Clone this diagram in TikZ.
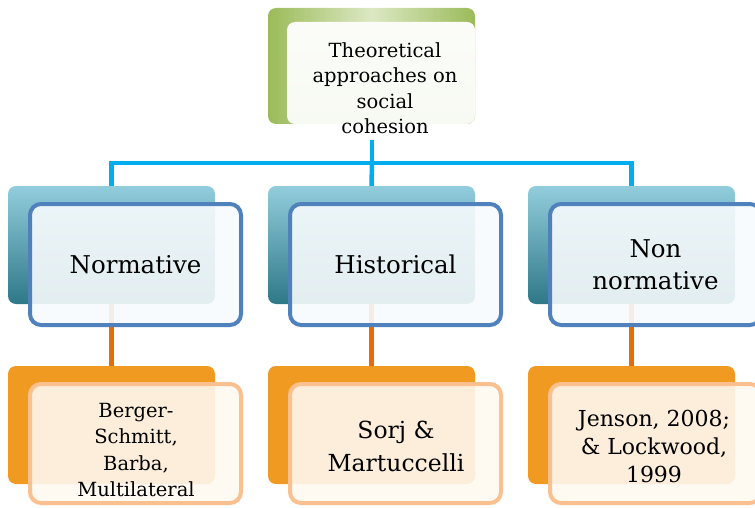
\documentclass[tikz,border=0pt]{standalone}
\usepackage{fontspec}
\setmainfont{DejaVu Serif}
\definecolor{blueline}{HTML}{00ADEE}
\definecolor{bluebord}{HTML}{4F81BD}
\definecolor{tealtop}{HTML}{92CDDC}
\definecolor{tealbot}{HTML}{2E7888}
\definecolor{orangeback}{HTML}{F09A22}
\definecolor{orangeline}{HTML}{E46C0A}
\definecolor{peach}{HTML}{FAC090}
\definecolor{greenA}{HTML}{9BBB59}
\definecolor{greenB}{HTML}{DCE8C4}
\begin{document}
\begin{tikzpicture}[x=1pt,y=-1pt,
  backbox/.style={rectangle,rounded corners=8pt,minimum width=207pt,minimum height=118pt,inner sep=0pt},
  tealbox/.style={backbox,top color=tealtop,bottom color=tealbot},
  orangebox/.style={backbox,fill=orangeback},
  frontblue/.style={rectangle,rounded corners=11pt,draw=bluebord,line width=4pt,fill=white!93!tealtop,fill opacity=0.9,text opacity=1,minimum width=211pt,minimum height=121pt,inner sep=0pt},
  frontorange/.style={rectangle,rounded corners=11pt,draw=peach,line width=4pt,fill=white!93!orangeback,fill opacity=0.9,text opacity=1,minimum width=211pt,minimum height=119pt,inner sep=0pt},
  midtext/.style={align=center,font=\fontsize{24.5}{32}\selectfont},
  bottext/.style={align=center,font=\fontsize{19.5}{26.5}\selectfont},
  toptext/.style={align=center,font=\fontsize{19.5}{25.5}\selectfont},
  bconn/.style={draw=blueline,line width=4.5pt},
  oconn/.style={draw=orangeline,line width=4.5pt}]
\useasboundingbox (0,0) rectangle (755,508);
% coordinates for connector layout
\coordinate (topstem) at (372,140);
\coordinate (hubL) at (111.5,163);
\coordinate (hubC) at (372,163);
\coordinate (hubR) at (631.5,163);
% back boxes (placeholders for names first)
\path (371.5,66) node[backbox] (topback) {};
\path (111.5,245) node[backbox] (m1back) {};
\path (371.5,245) node[backbox] (m2back) {};
\path (631.5,245) node[backbox] (m3back) {};
\path (111.5,425) node[backbox] (b1back) {};
\path (371.5,425) node[backbox] (b2back) {};
\path (631.5,425) node[backbox] (b3back) {};
% connectors
\draw[bconn] (topstem) -- (hubC);
\draw[bconn] (m1back.north) -- (hubL) -- (hubR) -- (m3back.north);
\draw[bconn] (hubC) -- (m2back.north);
\draw[oconn] (m1back.south) -- (b1back.north);
\draw[oconn] (m2back.south) -- (b2back.north);
\draw[oconn] (m3back.south) -- (b3back.north);
% top
\path[rounded corners=8pt,left color=greenA,right color=greenA,middle color=greenB]
  (268,8) rectangle (475,124);
\path[rounded corners=8pt,top color=white!96!greenA,bottom color=white!92!greenA]
  (287,22) rectangle (475,124);
\node[toptext] (toplabel) at (385,88) {Theoretical\\approaches on\\social\\cohesion};
% middle row
\path (111.5,245) node[tealbox] {};
\path (371.5,245) node[tealbox] {};
\path (631.5,245) node[tealbox] {};
\node[frontblue,midtext] (norm) at (135.5,264.5) {Normative};
\node[frontblue,midtext] (hist) at (395.5,264.5) {Historical};
\node[frontblue,midtext] (nonn) at (655.5,264.5) {Non\\normative};
% bottom row
\path (111.5,425) node[orangebox] {};
\path (371.5,425) node[orangebox] {};
\path (631.5,425) node[orangebox] {};
\node[frontorange] (bs) at (135.5,443.5) {};
\node[bottext] (bstext) at (136,450) {Berger-\\Schmitt,\\Barba,\\Multilateral};
\node[frontorange] (sm) at (395.5,443.5) {};
\node[bottext,font=\fontsize{23.5}{33}\selectfont] (smtext) at (396,446) {Sorj \&\\Martuccelli};
\node[frontorange] (jl) at (655.5,443.5) {};
\node[bottext,font=\fontsize{22}{28}\selectfont] (jltext) at (654,446) {Jenson, 2008;\\\& Lockwood,\\1999};
\end{tikzpicture}
\end{document}
